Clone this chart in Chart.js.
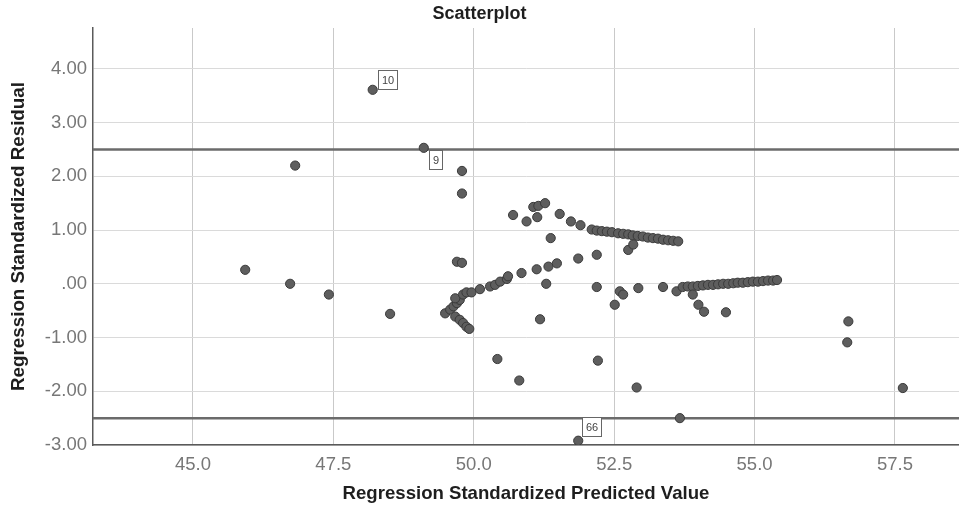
<!DOCTYPE html>
<html>
<head>
<meta charset="utf-8">
<title>Scatterplot</title>
<script src="https://cdn.jsdelivr.net/npm/chart.js@4"></script>
<style>
  html, body { margin: 0; padding: 0; background: #fff; overflow: hidden; }
  canvas { display: block; }
</style>
</head>
<body>
<canvas id="chart" width="959" height="508"></canvas>
<script>
/* ── Données ──────────────────────────────────────────────── */

// les trois premiers points sont les cas étiquetés 10, 9 et 66
const predicted = [
    48.20, 49.11, 51.86,
    45.93, 46.73, 47.42, 46.82, 48.51, 49.79, 49.79, 49.70, 49.79,
    49.49, 49.58, 49.64, 49.70, 49.75, 49.67, 49.81, 49.87, 49.96, 50.11,
    50.29, 50.38, 50.47, 50.59, 50.61, 50.85, 51.12, 51.33, 51.48, 51.86, 52.19,
    49.67, 49.75, 49.81, 49.87, 49.92,
    50.70, 50.94, 51.06, 51.15, 51.27, 51.13, 51.53, 51.37, 51.73, 51.90,
    52.10, 52.19, 52.28, 52.37, 52.46, 52.57, 52.66, 52.75, 52.83, 52.92,
    53.01, 53.10, 53.19, 53.28, 53.37, 53.46, 53.55, 53.64,
    52.75, 52.84,
    51.29, 52.19, 52.60, 52.66, 52.51, 52.93, 53.37, 53.61,
    53.72, 53.81, 53.90, 53.99, 54.08, 54.17, 54.26, 54.35, 54.44, 54.53,
    54.62, 54.70, 54.79, 54.88, 54.97, 55.06, 55.15, 55.24, 55.33, 55.40,
    53.90, 54.00, 54.10, 54.49,
    56.67, 56.65, 57.64,
    51.18, 50.42, 50.81, 52.21, 52.90, 53.67,
];

const residual = [
    3.61, 2.53, -2.92,
    0.26, 0.00, -0.20, 2.20, -0.56, 2.10, 1.68, 0.41, 0.39,
    -0.55, -0.48, -0.42, -0.36, -0.30, -0.27, -0.20, -0.16, -0.16, -0.10,
    -0.05, -0.02, 0.04, 0.09, 0.14, 0.20, 0.27, 0.32, 0.38, 0.47, 0.54,
    -0.61, -0.67, -0.73, -0.80, -0.84,
    1.28, 1.16, 1.43, 1.45, 1.50, 1.24, 1.30, 0.85, 1.16, 1.09,
    1.01, 0.99, 0.98, 0.97, 0.96, 0.94, 0.93, 0.92, 0.90, 0.89,
    0.88, 0.86, 0.85, 0.84, 0.82, 0.81, 0.80, 0.79,
    0.63, 0.73,
    0.00, -0.06, -0.14, -0.20, -0.39, -0.08, -0.06, -0.14,
    -0.06, -0.05, -0.05, -0.04, -0.03, -0.02, -0.02, -0.01, 0.00, 0.00,
    0.01, 0.02, 0.02, 0.03, 0.04, 0.04, 0.05, 0.06, 0.06, 0.07,
    -0.20, -0.39, -0.52, -0.53,
    -0.70, -1.09, -1.94,
    -0.66, -1.40, -1.80, -1.43, -1.93, -2.50,
];

const caseIds    = ["10", "9", "66"];
const caseIndex  = [0, 1, 2];
const refLines   = [2.5, -2.5];

const xTicks = [45.0, 47.5, 50.0, 52.5, 55.0, 57.5];
const yTicks = [-3, -2, -1, 0, 1, 2, 3, 4];

/* ── Styles ───────────────────────────────────────────────── */

const FONT = "'Liberation Sans', Arial, sans-serif";
// décalage de chaque étiquette par rapport à son point : [dx, dy, ancrage]
const LABEL_OFFSET = [[5, -1, "bottom"], [5, 2, "top"], [4, -5, "bottom"]];

/* ── Plugins ──────────────────────────────────────────────── */

const refLinePlugin = {
    id: "refLines",
    beforeDatasetsDraw(chart) {
        const { ctx, chartArea, scales } = chart;
        ctx.save();
        ctx.strokeStyle = "#6b6b6b";
        ctx.lineWidth = 2.5;
        refLines.forEach((v) => {
            const y = scales.y.getPixelForValue(v);
            ctx.beginPath();
            ctx.moveTo(chartArea.left, y);
            ctx.lineTo(chartArea.right, y);
            ctx.stroke();
        });
        ctx.restore();
    },
};

const caseLabelPlugin = {
    id: "caseLabels",
    afterDatasetsDraw(chart) {
        const { ctx, scales } = chart;
        ctx.save();
        ctx.font = `11px ${FONT}`;
        ctx.textAlign = "center";
        ctx.textBaseline = "middle";
        caseIds.forEach((id, k) => {
            const i = caseIndex[k];
            const px = scales.x.getPixelForValue(predicted[i]);
            const py = scales.y.getPixelForValue(residual[i]);
            const [dx, dy, anchor] = LABEL_OFFSET[k];
            const w = Math.round(ctx.measureText(id).width) + 7;
            const h = 19;
            const left = Math.round(px + dx) + 0.5;
            const top = Math.round(anchor === "bottom" ? py + dy - h : py + dy) + 0.5;
            ctx.fillStyle = "#fff";
            ctx.fillRect(left, top, w, h);
            ctx.strokeStyle = "#666";
            ctx.lineWidth = 1;
            ctx.strokeRect(left, top, w, h);
            ctx.fillStyle = "#444";
            ctx.fillText(id, left + w / 2, top + h / 2 + 0.5);
        });
        ctx.restore();
    },
};

/* ── Graphique ────────────────────────────────────────────── */

new Chart(document.getElementById("chart"), {
    type: "scatter",
    data: {
        datasets: [{
            data: predicted.map((x, i) => ({ x, y: residual[i] })),
            backgroundColor: "#5e5e5e",
            borderColor: "#3a3a3a",
            borderWidth: 1,
            pointRadius: 4.6,
        }],
    },
    options: {
        responsive: false,
        animation: false,
        layout: { padding: 0, autoPadding: false },
        plugins: {
            legend: { display: false },
            tooltip: { enabled: false },
            title: {
                display: true,
                text: "Scatterplot",
                color: "#1e1e1e",
                font: { family: FONT, size: 18, weight: "bold" },
                padding: { top: 3, bottom: 3.4 },
            },
        },
        scales: {
            x: {
                type: "linear",
                min: 43.22,
                max: 58.64,
                afterBuildTicks: (s) => { s.ticks = xTicks.map((value) => ({ value })); },
                afterFit: (s) => { s.height = 63; s.paddingLeft = 0; s.paddingRight = 0; },
                grid: { color: "#c9c9c9", lineWidth: 1, drawTicks: false },
                border: { display: true, color: "#5a5a5a", width: 1.5 },
                ticks: {
                    color: "#777",
                    padding: 9,
                    font: { family: FONT, size: 18.5 },
                    callback: (v) => Number(v).toFixed(1),
                },
                title: {
                    display: true,
                    text: "Regression Standardized Predicted Value",
                    color: "#1e1e1e",
                    font: { family: FONT, size: 18.6, weight: "bold" },
                    padding: { top: 0, bottom: 3 },
                },
            },
            y: {
                type: "linear",
                min: -3,
                max: 4.76,
                afterBuildTicks: (s) => { s.ticks = yTicks.map((value) => ({ value })); },
                afterFit: (s) => { s.width = 93; },
                grid: { color: "#dadada", lineWidth: 1, drawTicks: false },
                border: { display: true, color: "#5a5a5a", width: 1.5 },
                ticks: {
                    color: "#777",
                    padding: 6,
                    font: { family: FONT, size: 18.5 },
                    callback: (v) => (v === 0 ? ".00" : Number(v).toFixed(2)),
                },
                title: {
                    display: true,
                    text: "Regression Standardized Residual",
                    color: "#1e1e1e",
                    font: { family: FONT, size: 18.8, weight: "bold" },
                    padding: { top: 8, bottom: 0 },
                },
            },
        },
    },
    plugins: [refLinePlugin, caseLabelPlugin],
});
</script>
</body>
</html>
